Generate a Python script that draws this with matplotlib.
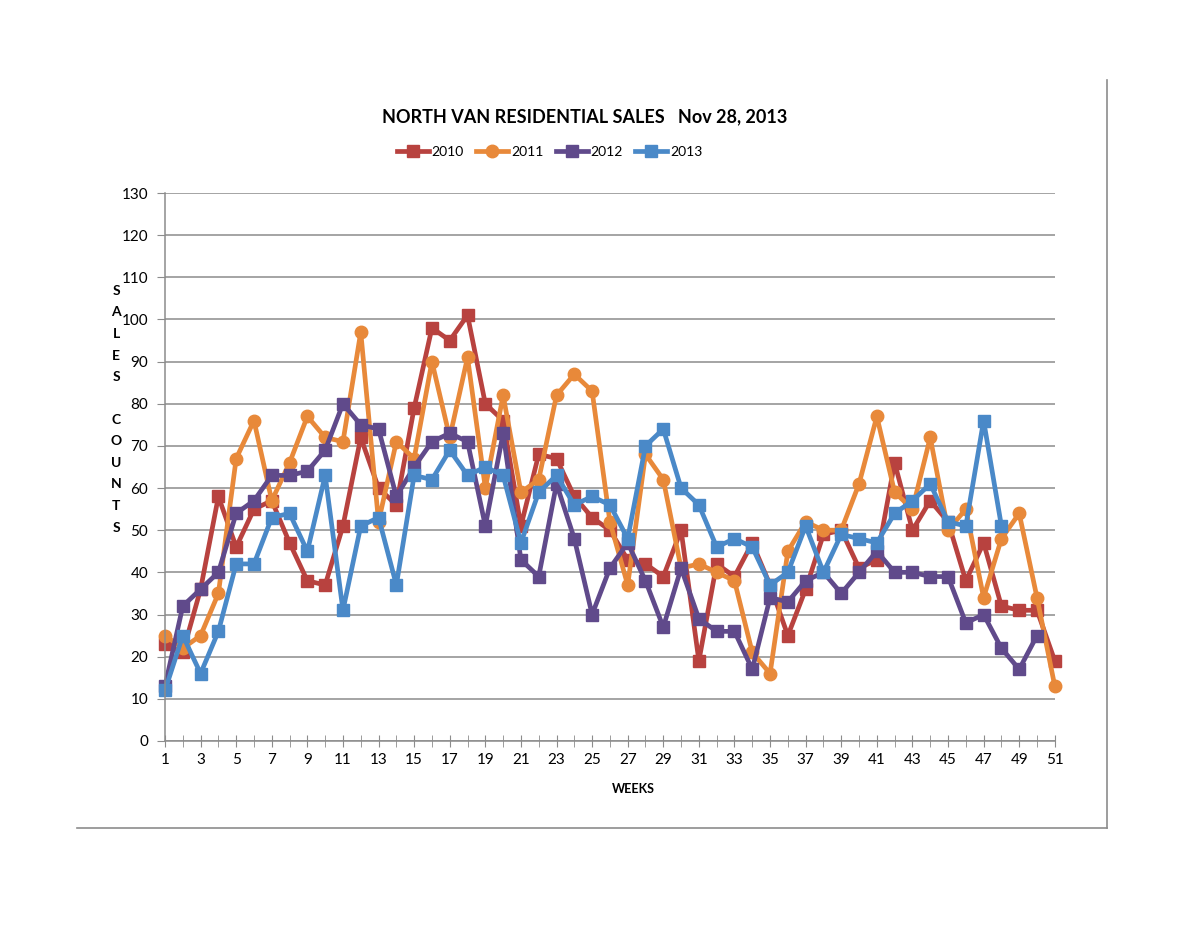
import matplotlib
matplotlib.use("Agg")
import matplotlib.pyplot as plt
from matplotlib.lines import Line2D

plt.rcParams["font.family"] = ["Lato", "DejaVu Sans"]

weeks = list(range(1, 52))

sales_2010 = [23, 21, 36, 58, 46, 55, 57, 47, 38, 37, 51, 72, 60, 56, 79, 98, 95, 101,
              80, 76, 51, 68, 67, 58, 53, 50, 43, 42, 39, 50, 19, 42, 39, 47, 37, 25,
              36, 49, 50, 41, 43, 66, 50, 57, 52, 38, 47, 32, 31, 31, 19]
sales_2011 = [25, 22, 25, 35, 67, 76, 57, 66, 77, 72, 71, 97, 52, 71, 67, 90, 72, 91,
              60, 82, 59, 62, 82, 87, 83, 52, 37, 68, 62, 41, 42, 40, 38, 21, 16, 45,
              52, 50, 50, 61, 77, 59, 55, 72, 50, 55, 34, 48, 54, 34, 13]
sales_2012 = [13, 32, 36, 40, 54, 57, 63, 63, 64, 69, 80, 75, 74, 58, 65, 71, 73, 71,
              51, 73, 43, 39, 61, 48, 30, 41, 47, 38, 27, 41, 29, 26, 26, 17, 34, 33,
              38, 40, 35, 40, 45, 40, 40, 39, 39, 28, 30, 22, 17, 25]
sales_2013 = [12, 25, 16, 26, 42, 42, 53, 54, 45, 63, 31, 51, 53, 37, 63, 62, 69, 63,
              65, 63, 47, 59, 63, 56, 58, 56, 48, 70, 74, 60, 56, 46, 48, 46, 37, 40,
              51, 40, 49, 48, 47, 54, 57, 61, 52, 51, 76, 51]

series = [
    ("2010", sales_2010, "#B8423F", "s"),
    ("2011", sales_2011, "#E8893A", "o"),
    ("2012", sales_2012, "#604A8B", "s"),
    ("2013", sales_2013, "#4A89C8", "s"),
]

ylabel = "SALES COUNTS"

fig = plt.figure(figsize=(12, 9.27), dpi=100)
ax = fig.add_axes([0.1375, 0.2007, 0.879 - 0.1375, 0.7918 - 0.2007])

handles = []
for label, vals, color, marker in series:
    ln, = ax.plot(weeks[:len(vals)], vals, color=color, lw=3.4, marker=marker,
                  ms=9, markeredgecolor=color, label=label, clip_on=False)
    handles.append(ln)

ax.set_xlim(1, 51)
ax.set_ylim(0, 130)
ax.set_yticks(range(0, 131, 10))
ax.set_xticks(range(1, 52, 2))
ax.set_xticks(range(1, 52), minor=True)
ax.yaxis.grid(True, color="#8C8C8C", lw=1.1)
ax.set_axisbelow(True)

for side in ["top", "right"]:
    ax.spines[side].set_visible(False)
for side in ["left", "bottom"]:
    ax.spines[side].set_color("#8C8C8C")
    ax.spines[side].set_linewidth(1.1)

ax.tick_params(axis="y", length=6, color="#8C8C8C", labelsize=11, pad=6)
ax.tick_params(axis="x", which="both", direction="inout", length=9,
               color="#8C8C8C", labelsize=11, pad=4)

fig.text(0.4875, 0.874, "NORTH VAN RESIDENTIAL SALES   Nov 28, 2013",
         ha="center", va="center", fontsize=13, fontweight="bold")
fig.text(0.5275, 0.149, "WEEKS", ha="center", va="center", fontsize=9, fontweight="bold")

# stacked vertical axis title, one letter per row
y0, step = 1 - 291 / 927, 21.5 / 927
for i, ch in enumerate(ylabel):
    if ch != " ":
        fig.text(0.0967, y0 - i * step, ch, ha="center", va="center",
                 fontsize=10, fontweight="bold")

fig.legend(handles=handles, loc="center", bbox_to_anchor=(0.458, 0.836), ncol=4,
           frameon=False, fontsize=10, handlelength=2.3, handletextpad=0.2,
           columnspacing=0.9)

# chart area border (right and bottom edges)
fig.add_artist(Line2D([0.064, 0.9225], [0.1068, 0.1068], color="#8C8C8C", lw=1.2))
fig.add_artist(Line2D([0.9225, 0.9225], [0.1068, 0.914], color="#8C8C8C", lw=1.2))

fig.savefig("out.png", dpi=100)
